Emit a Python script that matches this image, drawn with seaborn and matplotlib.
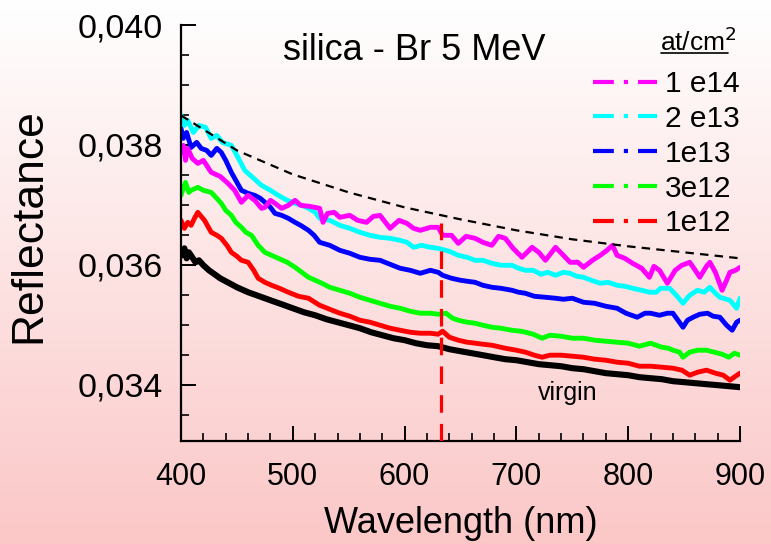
import numpy as np
import pandas as pd
import matplotlib
matplotlib.use("Agg")
import matplotlib.pyplot as plt
import seaborn as sns
from matplotlib.lines import Line2D
from matplotlib.ticker import MultipleLocator, FuncFormatter

# ---------------- data ----------------
wl_1e14 = [400, 402, 404, 406, 410, 415, 420, 427, 435, 442, 448, 454, 460, 466, 472, 475, 480, 484, 490, 496,
           502, 507, 515, 524, 527, 531, 537, 542, 551, 558, 566, 572, 578, 587, 595, 602, 608, 614, 623, 630,
           634, 642, 648, 655, 663, 670, 678, 684, 690, 697, 705, 714, 720, 726, 735, 742, 748, 755, 760, 768,
           775, 781, 786, 790, 797, 804, 812, 819, 823, 828, 835, 842, 848, 855, 860, 864, 870, 873, 878, 884,
           888, 891, 896, 900]
r_1e14 = [0.037875, 0.037992, 0.037742, 0.037942, 0.037775, 0.037692, 0.037742, 0.037542, 0.037475, 0.037358,
          0.037242, 0.037042, 0.037158, 0.037075, 0.036942, 0.036958, 0.037075, 0.037025, 0.036942, 0.036992,
          0.037075, 0.036992, 0.036975, 0.036942, 0.036708, 0.036858, 0.036875, 0.036792, 0.036825, 0.036742,
          0.036708, 0.036808, 0.036825, 0.036608, 0.036742, 0.036692, 0.036608, 0.036575, 0.036625, 0.036625,
          0.036492, 0.036492, 0.036358, 0.036475, 0.036442, 0.036375, 0.036325, 0.036475, 0.036442, 0.036275,
          0.036125, 0.036292, 0.036208, 0.036075, 0.036292, 0.036158, 0.036042, 0.036042, 0.035958, 0.036075,
          0.036158, 0.036242, 0.036325, 0.036158, 0.036108, 0.036025, 0.035942, 0.035792, 0.035975, 0.035908,
          0.035692, 0.035908, 0.035992, 0.036042, 0.035908, 0.035792, 0.035975, 0.036042, 0.035875, 0.035575,
          0.035742, 0.035875, 0.035908, 0.035958]

wl_2e13 = [400, 403, 406, 411, 416, 422, 427, 432, 437, 445, 450, 457, 465, 472, 480, 487, 495, 502, 508, 514,
           520, 524, 533, 542, 551, 560, 569, 578, 587, 596, 602, 608, 615, 623, 630, 640, 648, 656, 663, 670,
           678, 686, 696, 702, 708, 715, 722, 728, 735, 742, 748, 754, 760, 767, 775, 782, 790, 797, 804, 812,
           819, 825, 829, 837, 843, 849, 855, 862, 868, 873, 878, 882, 891, 897, 900]
r_2e13 = [0.038492, 0.038325, 0.038408, 0.038208, 0.038325, 0.038292, 0.038108, 0.038158, 0.038042, 0.037992,
          0.037825, 0.037575, 0.037442, 0.037325, 0.037242, 0.037158, 0.037075, 0.037025, 0.036992, 0.036942,
          0.036875, 0.036775, 0.036742, 0.036658, 0.036608, 0.036542, 0.036492, 0.036458, 0.036442, 0.036408,
          0.036375, 0.036292, 0.036325, 0.036292, 0.036275, 0.036225, 0.036158, 0.036125, 0.036075, 0.036075,
          0.036025, 0.035992, 0.035992, 0.035942, 0.035908, 0.035908, 0.035842, 0.035875, 0.035825, 0.035875,
          0.035858, 0.035808, 0.035792, 0.035742, 0.035692, 0.035708, 0.035658, 0.035642, 0.035608, 0.035575,
          0.035542, 0.035542, 0.035608, 0.035608, 0.035492, 0.035358, 0.035492, 0.035575, 0.035542, 0.035625,
          0.035525, 0.035458, 0.035408, 0.035275, 0.035442]

wl_1e13 = [400, 402, 405, 409, 414, 418, 423, 427, 432, 436, 440, 445, 450, 454, 460, 466, 471, 475, 480, 484,
           490, 496, 502, 507, 514, 519, 524, 533, 542, 551, 560, 569, 578, 587, 596, 605, 614, 623, 630, 634,
           642, 650, 656, 663, 670, 678, 686, 696, 702, 708, 716, 726, 735, 742, 750, 760, 770, 780, 790, 798,
           808, 815, 820, 828, 835, 840, 849, 853, 858, 864, 871, 876, 882, 888, 893, 897, 900]
r_1e13 = [0.038275, 0.038108, 0.038208, 0.037958, 0.038042, 0.037942, 0.037908, 0.037825, 0.037942, 0.037875,
          0.037742, 0.037542, 0.037375, 0.037242, 0.037192, 0.037158, 0.037108, 0.037042, 0.036958, 0.036858,
          0.036825, 0.036775, 0.036708, 0.036658, 0.036575, 0.036492, 0.036375, 0.036325, 0.036242, 0.036192,
          0.036125, 0.036092, 0.036075, 0.036008, 0.035942, 0.035908, 0.035858, 0.035908, 0.035875, 0.035825,
          0.035775, 0.035742, 0.035725, 0.035708, 0.035658, 0.035625, 0.035608, 0.035575, 0.035542, 0.035525,
          0.035475, 0.035458, 0.035442, 0.035425, 0.035442, 0.035375, 0.035358, 0.035308, 0.035275, 0.035192,
          0.035125, 0.035192, 0.035192, 0.035158, 0.035192, 0.035192, 0.034958, 0.035075, 0.035125, 0.035175,
          0.035192, 0.035142, 0.035125, 0.034992, 0.034908, 0.035042, 0.035075]

wl_3e12 = [400, 402, 404, 407, 409, 415, 420, 427, 432, 436, 440, 445, 449, 454, 458, 463, 469, 475, 481, 487,
           495, 502, 508, 514, 520, 526, 533, 542, 551, 560, 569, 578, 587, 596, 605, 614, 623, 630, 637, 643,
           648, 656, 663, 670, 678, 686, 696, 704, 708, 715, 723, 730, 740, 750, 760, 770, 780, 790, 800, 810,
           820, 830, 836, 840, 846, 849, 855, 862, 870, 877, 884, 890, 895, 900]
r_3e12 = [0.037158, 0.037275, 0.037375, 0.037208, 0.037242, 0.037292, 0.037242, 0.037208, 0.037108, 0.037025,
          0.036908, 0.036825, 0.036708, 0.036625, 0.036542, 0.036492, 0.036325, 0.036208, 0.036158, 0.036108,
          0.036042, 0.035958, 0.035875, 0.035792, 0.035742, 0.035692, 0.035625, 0.035575, 0.035525, 0.035458,
          0.035408, 0.035358, 0.035308, 0.035275, 0.035225, 0.035192, 0.035192, 0.035175, 0.035192, 0.035108,
          0.035075, 0.035042, 0.035025, 0.034992, 0.034958, 0.034942, 0.034908, 0.034892, 0.034875, 0.034842,
          0.034775, 0.034825, 0.034808, 0.034775, 0.034775, 0.034742, 0.034725, 0.034708, 0.034692, 0.034642,
          0.034692, 0.034625, 0.034608, 0.034575, 0.034542, 0.034458, 0.034542, 0.034575, 0.034575, 0.034542,
          0.034508, 0.034458, 0.034525, 0.034492]

wl_1e12 = [400, 403, 406, 409, 412, 415, 418, 421, 427, 432, 436, 441, 445, 450, 454, 460, 465, 469, 475, 481,
           488, 496, 505, 514, 524, 533, 542, 551, 560, 569, 578, 587, 596, 605, 614, 623, 630, 634, 640, 648,
           656, 663, 670, 678, 690, 700, 708, 716, 723, 730, 740, 750, 760, 770, 780, 790, 800, 810, 820, 830,
           840, 848, 855, 862, 870, 878, 885, 891, 896, 900]
r_1e12 = [0.036742, 0.036608, 0.036708, 0.036658, 0.036775, 0.036875, 0.036808, 0.036742, 0.036542, 0.036492,
          0.036442, 0.036325, 0.036208, 0.036142, 0.036075, 0.036042, 0.035908, 0.035775, 0.035708, 0.035658,
          0.035608, 0.035542, 0.035475, 0.035442, 0.035325, 0.035258, 0.035192, 0.035142, 0.035075, 0.035042,
          0.034992, 0.034942, 0.034908, 0.034875, 0.034858, 0.034858, 0.034842, 0.034892, 0.034792, 0.034742,
          0.034708, 0.034692, 0.034675, 0.034658, 0.034608, 0.034575, 0.034542, 0.034492, 0.034458, 0.034492,
          0.034492, 0.034475, 0.034458, 0.034425, 0.034408, 0.034375, 0.034358, 0.034308, 0.034308, 0.034292,
          0.034275, 0.034242, 0.034158, 0.034208, 0.034242, 0.034192, 0.034158, 0.034075, 0.034142, 0.034192]

wl_virgin = [400, 401, 403, 405, 407, 410, 413, 416, 420, 425, 430, 435, 440, 445, 450, 460, 470, 480, 490, 500,
             510, 520, 530, 540, 550, 560, 570, 580, 590, 600, 610, 620, 630, 640, 650, 660, 670, 680, 690, 700,
             710, 720, 730, 740, 750, 760, 770, 780, 790, 800, 810, 820, 830, 840, 850, 860, 870, 880, 890, 900]
r_virgin = [0.036242, 0.036158, 0.036275, 0.036108, 0.036208, 0.036125, 0.036042, 0.036075, 0.035992, 0.035908,
            0.035842, 0.035775, 0.035725, 0.035675, 0.035625, 0.035542, 0.035475, 0.035408, 0.035342, 0.035275,
            0.035208, 0.035158, 0.035092, 0.035042, 0.034992, 0.034942, 0.034875, 0.034825, 0.034775, 0.034742,
            0.034692, 0.034658, 0.034642, 0.034592, 0.034558, 0.034525, 0.034492, 0.034458, 0.034425, 0.034408,
            0.034375, 0.034342, 0.034325, 0.034308, 0.034275, 0.034258, 0.034225, 0.034192, 0.034175, 0.034158,
            0.034125, 0.034108, 0.034092, 0.034058, 0.034042, 0.034025, 0.034008, 0.033992, 0.033975, 0.033958]

wl_fit = [400, 450, 500, 550, 600, 650, 700, 750, 800, 850, 900]
r_fit = [0.038492, 0.037908, 0.037508, 0.037208, 0.036958, 0.036758, 0.036575, 0.036425, 0.036308, 0.036208,
         0.036108]

laser_wl = 632.8
laser_top = 0.03669

series_labels = ["1 e14", "2 e13", "1e13", "3e12", "1e12", "virgin"]
series_colors = ["#ff00ff", "#00ffff", "#0000ff", "#00ff00", "#ff0000", "#000000"]
series_wl = [wl_1e14, wl_2e13, wl_1e13, wl_3e12, wl_1e12, wl_virgin]
series_r = [r_1e14, r_2e13, r_1e13, r_3e12, r_1e12, r_virgin]

x_ticks = [400, 500, 600, 700, 800, 900]
y_ticks = [0.034, 0.036, 0.038, 0.040]

# ---------------- figure ----------------
sns.set_theme(style="white")
plt.rcParams["font.family"] = ["Liberation Sans", "DejaVu Sans"]
plt.rcParams["text.color"] = "black"
plt.rcParams["axes.labelcolor"] = "black"

fig = plt.figure(figsize=(7.71, 5.44), dpi=100)

# background gradient
bg = fig.add_axes([0, 0, 1, 1], zorder=-10)
t = np.linspace(0, 1, 256)[:, None]
top = np.array([1.0, 1.0, 1.0])
bot = np.array([0.985, 0.78, 0.78])
grad = (1 - t)[..., None] * top + t[..., None] * bot
bg.imshow(grad, aspect="auto", extent=[0, 1, 0, 1])
bg.axis("off")

ax = fig.add_axes([0.2348, 0.1893, 0.7250, 0.7647])
ax.patch.set_alpha(0)

frames = []
for lab, w, r in zip(series_labels, series_wl, series_r):
    frames.append(pd.DataFrame({"wl": w, "refl": r, "series": lab}))
df = pd.concat(frames, ignore_index=True)

# draw bottom-most first: virgin, 1e12, ..., 1 e14 on top
for lab, col in reversed(list(zip(series_labels, series_colors))):
    sub = df[df["series"] == lab]
    sns.lineplot(data=sub, x="wl", y="refl", color=col, lw=4.4 if lab == "virgin" else 3.5,
                 estimator=None, sort=False, ax=ax, legend=False)

fit_df = pd.DataFrame({"wl": wl_fit, "refl": r_fit})
sns.lineplot(data=fit_df, x="wl", y="refl", color="black", lw=1.6, ax=ax, legend=False,
             estimator=None)
ax.lines[-1].set_dashes((3.8, 2.8))

ax.vlines(laser_wl, 0.03306, laser_top, colors="#ff0000", lw=2.3, linestyles=(0, (5.5, 3.5)), zorder=10)

ax.set_xlim(400, 900)
ax.set_ylim(0.03306, 0.040)
ax.set_xticks(x_ticks)
ax.set_yticks(y_ticks)
ax.xaxis.set_minor_locator(MultipleLocator(20))
ax.yaxis.set_minor_locator(MultipleLocator(0.0005))
ax.yaxis.set_major_formatter(FuncFormatter(lambda v, p: f"{v:.3f}".replace(".", ",")))
ax.tick_params(axis="both", which="both", bottom=True, left=True, top=False, right=False)
ax.tick_params(axis="both", which="major", direction="in", length=11, width=1.4,
               color="black", labelcolor="black")
ax.tick_params(axis="both", which="minor", direction="in", length=6, width=1.2, color="black")
ax.tick_params(axis="y", which="major", pad=13, labelsize=24.5)
ax.tick_params(axis="x", which="major", pad=15, labelsize=22)
for s in ["top", "right"]:
    ax.spines[s].set_visible(False)
for s in ["left", "bottom"]:
    ax.spines[s].set_color("black")
    ax.spines[s].set_linewidth(1.6)

ax.set_xlabel("Wavelength (nm)", fontsize=26, labelpad=10, color="black")
ax.set_ylabel("Reflectance", fontsize=32, color="black")
ax.yaxis.set_label_coords(-0.236, 0.517)

fig.text(414 / 771, 1 - 51 / 544, "silica - Br 5 MeV", ha="center", va="center", fontsize=26, color="black")
ax.text(746, 0.03386, "virgin", ha="center", va="center", fontsize=18, color="black")

handles = [Line2D([], [], color=c, lw=3, dashes=(5, 2.4, 1, 2.4)) for c in series_colors[:5]]
leg = fig.legend(handles, series_labels[:5], loc="upper left",
                 bbox_to_anchor=(593 / 771, 1 - 70 / 544), frameon=False, fontsize=21.5,
                 handlelength=2.15, handletextpad=0.25, labelspacing=0.23,
                 borderpad=0, borderaxespad=0, labelcolor="black")

# legend title (underlined unit)
ttl = fig.text(737 / 771, 1 - 42 / 544, "at/cm$^2$", ha="right", va="center", fontsize=19, color="black")
fig.canvas.draw()
tb = ttl.get_window_extent()
inv = fig.transFigure.inverted()
(x0, y0), (x1, _) = inv.transform([(tb.x0 + 1, tb.y0 + 3), (tb.x1 - 9, tb.y0 + 3)])
fig.add_artist(Line2D([x0, x1], [y0, y0], color="black", lw=1.2, transform=fig.transFigure))

fig.savefig("out.png", dpi=100)
